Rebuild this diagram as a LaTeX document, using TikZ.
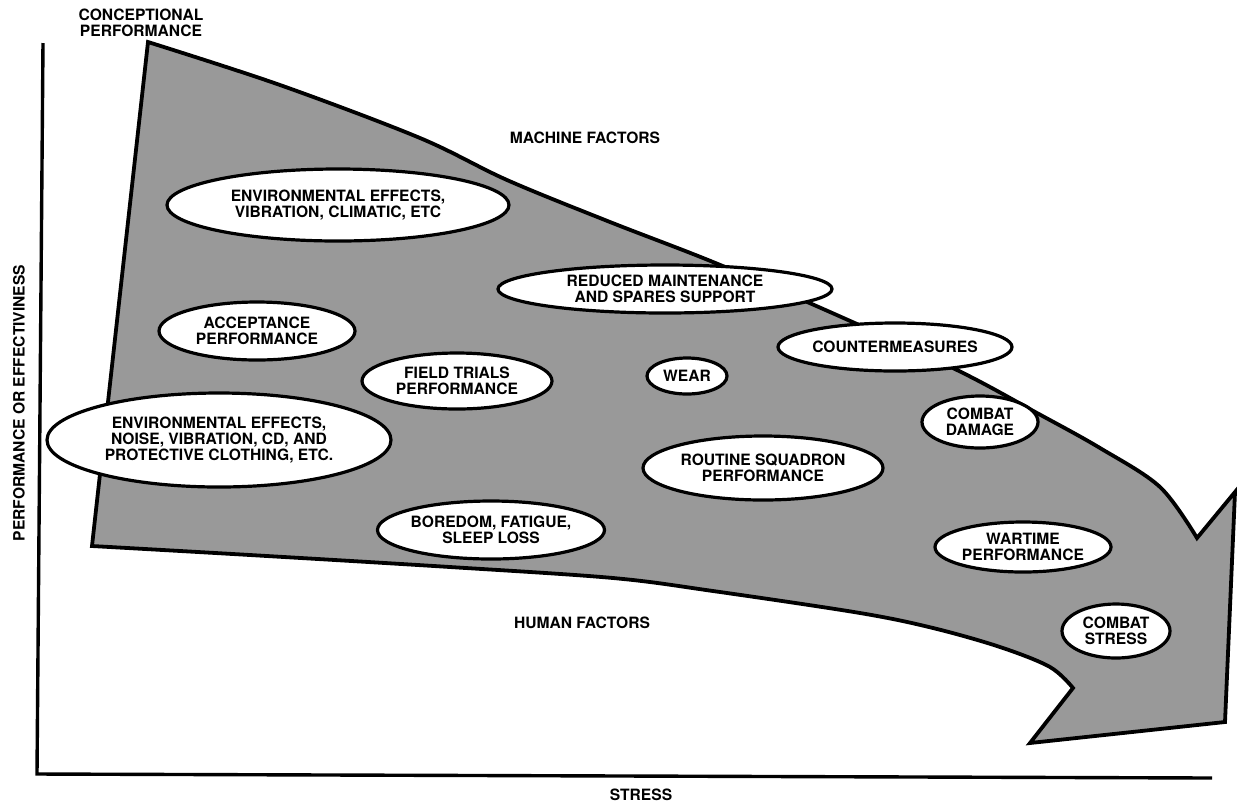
\documentclass[tikz,border=0pt]{standalone}
\usepackage{fontspec}
\setmainfont{TeX Gyre Heros}
\usetikzlibrary{shapes.geometric}
\begin{document}
\begin{tikzpicture}[x=0.5pt,y=-0.5pt,
  every node/.style={font=\bfseries\fontsize{7.8pt}{8.2pt}\selectfont, align=center, inner sep=0pt},
  band/.style={draw=black, line width=1.9pt, fill=black!40, line join=miter},
  oval/.style={ellipse, draw=black, line width=1.6pt, fill=white},
  axis/.style={draw=black, line width=1.7pt},
  lbl/.style={}]
\useasboundingbox (0,0) rectangle (1237,805);
\fill[white] (0,0) rectangle (1237,805);

% axes
\coordinate (ytop) at (43,43);
\coordinate (orig) at (37,774);
\coordinate (xend) at (1212,778);
\draw[axis] (ytop) -- (orig) -- (xend);

% the broad downward-sweeping arrow
\draw[band]
  plot[smooth, tension=0.55] coordinates {(148,42) (280,85) (420,138) (507,180) (610,222) (713,262) (830,312) (957,370) (1037,413) (1100,448) (1160,487) (1197,538)}
  -- (1235,492) -- (1225,722) -- (1030,743) -- (1073,688)
  -- plot[smooth, tension=0.55] coordinates {(1073,688) (1050,667) (1000,647) (933,628) (860,613) (713,591) (613,578) (450,567) (250,555) (92,546)}
  -- cycle;

% free labels
\node[lbl] (concept) at (141,23) {CONCEPTIONAL\\PERFORMANCE};
\node[lbl] (machine) at (585,138) {MACHINE FACTORS};
\node[lbl] (human) at (582,623) {HUMAN FACTORS};
\node[lbl] (stress) at (641,795) {STRESS};
\node[lbl, rotate=90] (perf) at (19,403) {PERFORMANCE OR EFFECTIVINESS};

% factor ovals (sizes in pt: half of the pixel extent)
\node[oval, minimum width=171pt, minimum height=36pt] (env1) at (338,205) {ENVIRONMENTAL EFFECTS,\\VIBRATION, CLIMATIC, ETC};
\node[oval, minimum width=98pt, minimum height=29pt] (accept) at (257,331) {ACCEPTANCE\\PERFORMANCE};
\node[oval, minimum width=95pt, minimum height=28pt] (field) at (457,381) {FIELD TRIALS\\PERFORMANCE};
\node[oval, minimum width=172pt, minimum height=47pt] (env2) at (219,440) {ENVIRONMENTAL EFFECTS,\\NOISE, VIBRATION, CD, AND\\PROTECTIVE CLOTHING, ETC.};
\node[oval, minimum width=167pt, minimum height=24pt] (reduced) at (665,289) {REDUCED MAINTENANCE\\AND SPARES SUPPORT};
\node[oval, minimum width=40pt, minimum height=18pt] (wear) at (687,376) {WEAR};
\node[oval, minimum width=112pt, minimum height=24pt] (counter) at (895,347) {COUNTERMEASURES};
\node[oval, minimum width=120pt, minimum height=32pt] (routine) at (763,468) {ROUTINE SQUADRON\\PERFORMANCE};
\node[oval, minimum width=112pt, minimum height=29pt] (boredom) at (491,530) {BOREDOM, FATIGUE,\\SLEEP LOSS};
\node[oval, minimum width=58pt, minimum height=26pt] (damage) at (980,422) {COMBAT\\DAMAGE};
\node[oval, minimum width=88pt, minimum height=25pt] (wartime) at (1023,547) {WARTIME\\PERFORMANCE};
\node[oval, minimum width=54pt, minimum height=27pt] (cstress) at (1116,631) {COMBAT\\STRESS};
\end{tikzpicture}
\end{document}
